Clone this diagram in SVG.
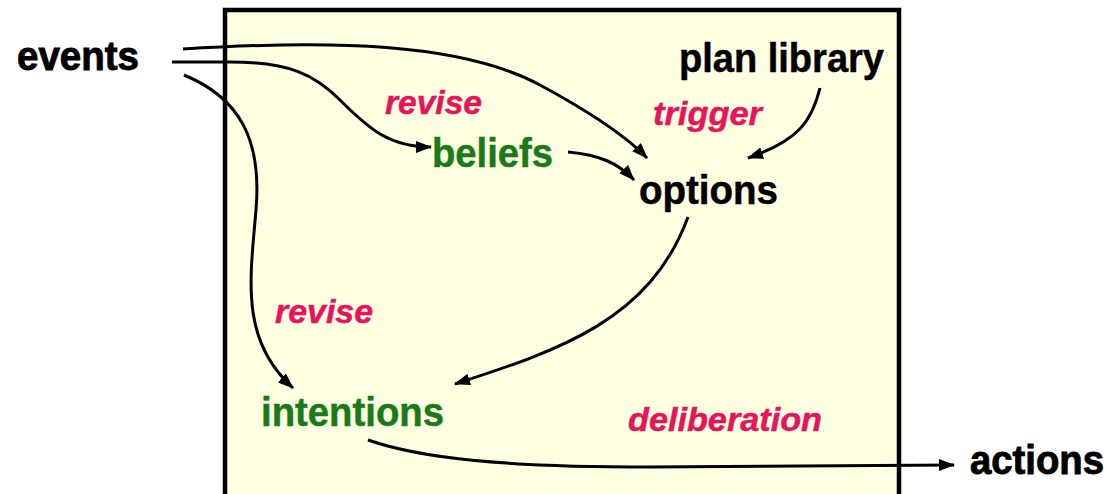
<svg xmlns="http://www.w3.org/2000/svg" width="1108" height="494" viewBox="0 0 1108 494">
  <defs>
    <marker id="arrow" markerUnits="userSpaceOnUse" markerWidth="17" markerHeight="13" refX="15" refY="6" orient="auto">
      <path d="M0,0 L16,6 L0,12 Z" fill="#000"/>
    </marker>
    <style>
      .lbl { font-family: "Liberation Sans", Arial, sans-serif; font-weight: bold; font-size: 40px; stroke-width: 0.5; }
      .ext { fill: #000; stroke: #000; stroke-width: 0.9; }
      .blk { fill: #000; stroke: #000; }
      .grn { fill: #1a7a1a; stroke: #1a7a1a; }
      .act { font-style: italic; font-size: 34px; fill: #e5145c; stroke: #e5145c; }
      .edge { fill: none; stroke: #000; stroke-width: 3; }
      .tip { marker-end: url(#arrow); }
    </style>
  </defs>

  <rect width="1108" height="494" fill="#fff"/>

  <!-- agent boundary -->
  <rect id="agent" x="225" y="10" width="674" height="500" fill="#fefee0" stroke="#000" stroke-width="4.5"/>

  <!-- connectors -->
  <g id="connectors">
    <path class="edge tip" d="M183,49 C330,40 460,42 540,85 C590,112 625,135 647,158"/>
    <path class="edge tip" d="M172,62 L230,62 C290,62 315,75 340,100 C370,130 390,147 431,147"/>
    <path class="edge tip" d="M184,75 C240,98 262,140 256,210 C250,280 240,340 293,388"/>
    <path class="edge tip" d="M568,152 C600,155 618,163 634,180"/>
    <path class="edge tip" d="M820,88 C812,120 800,140 748,158"/>
    <path class="edge tip" d="M688,217 C650,320 560,350 455,384"/>
    <path class="edge tip" d="M368,440 C420,458 500,467 650,467 L954,465"/>
  </g>

  <!-- external inputs / outputs -->
  <g id="events"><text class="lbl ext" x="17" y="70" textLength="122" lengthAdjust="spacingAndGlyphs">events</text></g>
  <g id="actions"><text class="lbl ext" x="970" y="474" textLength="134" lengthAdjust="spacingAndGlyphs">actions</text></g>

  <!-- agent components -->
  <g id="plan-library"><text class="lbl blk" x="679" y="72" textLength="205" lengthAdjust="spacingAndGlyphs">plan library</text></g>
  <g id="beliefs"><text class="lbl grn" x="432" y="167" textLength="121" lengthAdjust="spacingAndGlyphs">beliefs</text></g>
  <g id="options"><text class="lbl blk" x="639" y="204" textLength="139" lengthAdjust="spacingAndGlyphs">options</text></g>
  <g id="intentions"><text class="lbl grn" x="261" y="426" textLength="183" lengthAdjust="spacingAndGlyphs">intentions</text></g>

  <!-- process labels -->
  <g id="label-revise-beliefs"><text class="lbl act" x="385" y="114" textLength="97" lengthAdjust="spacingAndGlyphs">revise</text></g>
  <g id="label-trigger"><text class="lbl act" x="653" y="125" textLength="109" lengthAdjust="spacingAndGlyphs">trigger</text></g>
  <g id="label-revise-intentions"><text class="lbl act" x="275" y="323" textLength="98" lengthAdjust="spacingAndGlyphs">revise</text></g>
  <g id="label-deliberation"><text class="lbl act" x="628" y="431" textLength="194" lengthAdjust="spacingAndGlyphs">deliberation</text></g>
</svg>
